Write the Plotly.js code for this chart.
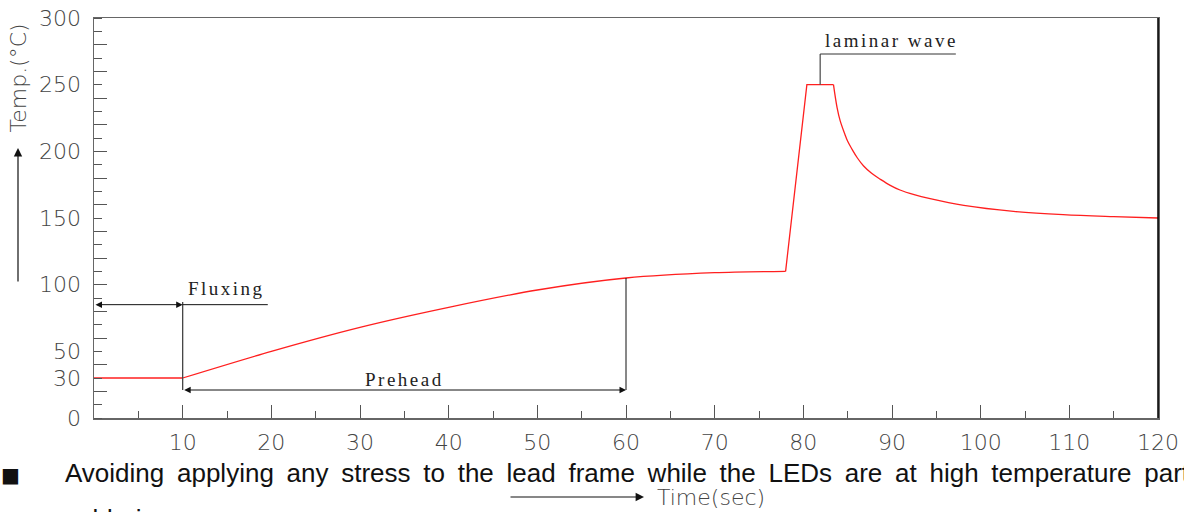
<!DOCTYPE html>
<html>
<head>
<meta charset="utf-8">
<script src="https://cdn.plot.ly/plotly-3.0.1.min.js"></script>
<style>
html,body{margin:0;padding:0;background:#fff;}
#chart{width:1184px;height:512px;}
text.annotation-text[style*="Serif"]{letter-spacing:2.5px;}
text.annotation-text[style*="Liberation Sans"]{word-spacing:5.5px;}
</style>
</head>
<body>
<div id="chart"></div>
<script>
// ---- data (time in sec, temperature in °C) ----
var timeFlat = [0, 10];
var tempFlat = [30, 30];
var timePreheat = [10, 20, 30, 40, 50, 60, 70, 78];
var tempPreheat = [30, 50, 68, 83, 96, 105, 109, 110];
var timeRise = [78, 80.4, 83.4];
var tempRise = [110, 250, 250];
var timeDecay = [83.4, 83.8, 84.15, 84.7, 85.0, 85.5, 86.1, 86.8, 87.7, 88.7, 89.8, 90.9, 92.5, 94.3, 98.1, 103.7, 109.3, 115, 120];
var tempDecay = [250, 233, 223, 212.5, 207.5, 201.5, 195, 189, 183.5, 179, 174.5, 171, 167.5, 164.5, 159.5, 155, 152.5, 151, 150];

var yTickVals = [0, 30, 50, 100, 150, 200, 250, 300];
var yTickText = ['0', '30', '50', '100', '150', '200', '250', '300'];
var yLongTicks = [20, 40, 60, 80, 100, 120, 140, 160, 180, 200, 220, 240, 260, 280];
var xTickVals = [10, 20, 30, 40, 50, 60, 70, 80, 90, 100, 110, 120];
var xTickText = ['10', '20', '30', '40', '50', '60', '70', '80', '90', '100', '110', '120'];

// phase markers (data coordinates)
var fluxStart = 0, fluxEnd = 10, fluxLevel = 85, fluxLeaderEnd = 19.6, fluxTop = 87;
var preheatEnd = 60, preheatLevel = 21, preheatTempAtEnd = 105;
var waveX = 81.9, wavePeak = 250, waveLeaderY = 273, waveLeaderEnd = 97.2;

var red = '#ff1f1f';
var cadFont = {family: 'DejaVu Sans', weight: 200, size: 22, color: '#444'};
var serifFont = {family: 'Liberation Serif', size: 19, color: '#222'};
var noteFont = {family: 'Liberation Sans', size: 26, color: '#111'};

var traces = [
  {x: timeFlat, y: tempFlat, mode: 'lines', line: {color: red, width: 1.3}, hoverinfo: 'skip'},
  {x: timePreheat, y: tempPreheat, mode: 'lines', line: {color: red, width: 1.3, shape: 'spline', smoothing: 0.8}, hoverinfo: 'skip'},
  {x: timeRise, y: tempRise, mode: 'lines', line: {color: red, width: 1.3}, hoverinfo: 'skip'},
  {x: timeDecay, y: tempDecay, mode: 'lines', line: {color: red, width: 1.3, shape: 'spline', smoothing: 1}, hoverinfo: 'skip'},
  {x: [0], y: [0], yaxis: 'y2', mode: 'markers', marker: {opacity: 0}, hoverinfo: 'skip'}
];

function px(xp) { return (xp - 94) / 1064; }
function py(yp) { return (418 - yp) / 400; }

var blk = '#111';
var shapes = [
  {type: 'line', xref: 'x', yref: 'y', x0: fluxEnd, x1: fluxEnd, y0: preheatLevel, y1: fluxTop, line: {color: '#444', width: 1.3}},
  {type: 'line', xref: 'x', yref: 'y', x0: fluxEnd, x1: fluxLeaderEnd, y0: fluxLevel, y1: fluxLevel, line: {color: blk, width: 1}},
  {type: 'line', xref: 'x', yref: 'y', x0: preheatEnd, x1: preheatEnd, y0: preheatLevel, y1: preheatTempAtEnd, line: {color: blk, width: 1}},
  {type: 'line', xref: 'x', yref: 'y', x0: waveX, x1: waveX, y0: wavePeak, y1: waveLeaderY, line: {color: '#555', width: 1.3}},
  {type: 'line', xref: 'x', yref: 'y', x0: waveX, x1: waveLeaderEnd, y0: waveLeaderY, y1: waveLeaderY, line: {color: '#333', width: 1}},
  {type: 'line', xref: 'paper', yref: 'paper', x0: 1, x1: 1, y0: 0, y1: 1, line: {color: '#000', width: 1.5}}
];

var annotations = [
  {xref: 'x', yref: 'y', axref: 'x', ayref: 'y', x: fluxEnd, y: fluxLevel, ax: fluxStart, ay: fluxLevel,
   text: '', showarrow: true, arrowside: 'end+start', arrowhead: 2, arrowsize: 1.3, arrowwidth: 1, arrowcolor: blk},
  {xref: 'x', yref: 'y', axref: 'x', ayref: 'y', x: preheatEnd, y: preheatLevel, ax: fluxEnd, ay: preheatLevel,
   text: '', showarrow: true, arrowside: 'end+start', arrowhead: 2, arrowsize: 1.3, arrowwidth: 1, arrowcolor: blk},
  {xref: 'x', yref: 'y', x: 10.4, y: 97.5, xanchor: 'left', yanchor: 'middle', text: 'Fluxing', showarrow: false, font: serifFont},
  {xref: 'x', yref: 'y', x: 30.3, y: 29, xanchor: 'left', yanchor: 'middle', text: 'Prehead', showarrow: false, font: serifFont},
  {xref: 'x', yref: 'y', x: 82.2, y: 283.5, xanchor: 'left', yanchor: 'middle', text: 'laminar wave', showarrow: false, font: serifFont},
  {xref: 'paper', yref: 'paper', x: px(17.5), y: py(78), text: 'Temp.(°C)', textangle: -90, showarrow: false,
   xanchor: 'center', yanchor: 'middle', font: cadFont},
  {xref: 'paper', yref: 'paper', x: px(18), y: py(148), ax: 0, ay: 135, text: '', showarrow: true,
   arrowhead: 2, arrowsize: 1.4, arrowwidth: 1.2, arrowcolor: blk},
  {xref: 'paper', yref: 'paper', x: px(711), y: py(497), text: 'Time(sec)', showarrow: false,
   xanchor: 'center', yanchor: 'middle', font: cadFont},
  {xref: 'paper', yref: 'paper', x: px(644), y: py(497), ax: -135, ay: 0, text: '', showarrow: true,
   arrowhead: 2, arrowsize: 1.4, arrowwidth: 1.2, arrowcolor: blk},
  {xref: 'paper', yref: 'paper', x: px(10), y: py(475), text: '■', showarrow: false, xanchor: 'center', yanchor: 'middle',
   font: {family: 'DejaVu Sans', size: 20, color: '#111'}},
  {xref: 'paper', yref: 'paper', x: px(63), y: py(473), xanchor: 'left', yanchor: 'middle', showarrow: false,
   text: 'Avoiding applying any stress to the lead frame while the LEDs are at high temperature particularly when',
   font: noteFont},
  {xref: 'paper', yref: 'paper', x: px(63), y: py(519), xanchor: 'left', yanchor: 'middle', showarrow: false,
   text: 'soldering.', font: noteFont}
];

var layout = {
  width: 1184, height: 512,
  margin: {l: 94, r: 26, t: 18, b: 94},
  paper_bgcolor: '#fff', plot_bgcolor: '#fff',
  showlegend: false,
  xaxis: {
    range: [0, 120], showgrid: false, zeroline: false,
    showline: true, linecolor: '#666', linewidth: 1.5, mirror: true,
    tickmode: 'array', tickvals: xTickVals, ticktext: xTickText,
    ticks: 'inside', ticklen: 13, tickcolor: '#555', tickwidth: 1,
    minor: {dtick: 5, tick0: 0, ticks: 'inside', ticklen: 7, tickcolor: '#555', tickwidth: 1},
    ticklabelstandoff: 4,
    tickfont: cadFont
  },
  yaxis: {
    range: [0, 300], showgrid: false, zeroline: false,
    showline: true, linecolor: '#666', linewidth: 1.5, mirror: true,
    tickmode: 'array', tickvals: yTickVals, ticktext: yTickText,
    ticks: '', ticklabelstandoff: 7,
    minor: {dtick: 10, tick0: 0, ticks: 'inside', ticklen: 8, tickcolor: '#555', tickwidth: 1},
    tickfont: cadFont
  },
  yaxis2: {
    overlaying: 'y', side: 'left', range: [0, 300], showgrid: false, zeroline: false,
    showline: false, tickmode: 'array', tickvals: yLongTicks, showticklabels: false,
    ticks: 'inside', ticklen: 13, tickcolor: '#555', tickwidth: 1
  },
  shapes: shapes,
  annotations: annotations
};

Plotly.newPlot('chart', traces, layout, {staticPlot: true, displayModeBar: false});
</script>
</body>
</html>
